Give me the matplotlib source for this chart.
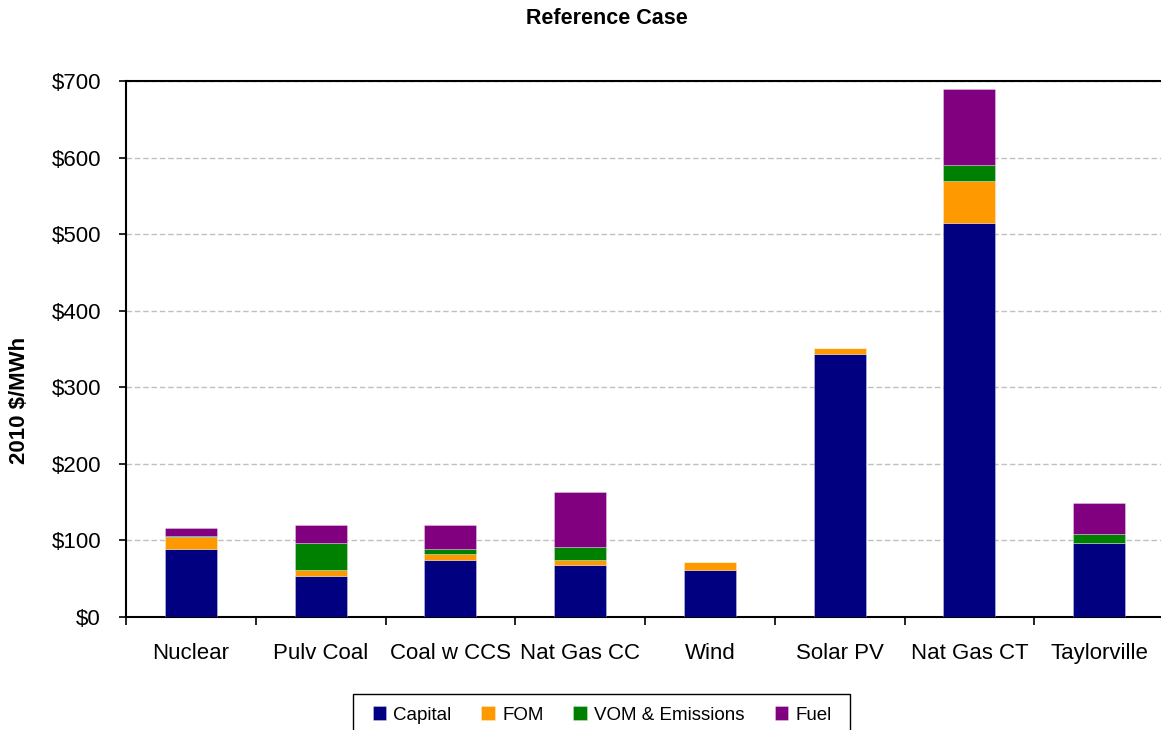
import matplotlib
matplotlib.use("Agg")
import matplotlib.pyplot as plt
from matplotlib.patches import Rectangle
import numpy as np

plt.rcParams['font.family'] = ['Liberation Sans', 'DejaVu Sans']

categories = ["Nuclear", "Pulv Coal", "Coal w CCS", "Nat Gas CC", "Wind", "Solar PV", "Nat Gas CT", "Taylorville"]
capital = [89, 53, 74, 68, 61, 343, 515, 96]
fom = [15, 8, 8, 6, 11, 8, 54, 0]
vom = [2, 36, 7, 17, 0, 0, 21, 13]
fuel = [10, 23, 31, 72, 0, 0, 100, 40]
series_names = ["Capital", "FOM", "VOM & Emissions", "Fuel"]
colors = ["#000080", "#FF9900", "#008000", "#800080"]
yticks = [0, 100, 200, 300, 400, 500, 600, 700]

W, H = 1161, 730
fig = plt.figure(figsize=(W / 100, H / 100), dpi=100)
ax = fig.add_axes([126 / W, 1 - 617 / H, (1164 - 126) / W, (617 - 81) / H])

x = np.arange(len(categories))
bottom = np.zeros(len(categories))
for vals, name, c in zip([capital, fom, vom, fuel], series_names, colors):
    v = np.array(vals, dtype=float)
    ax.bar(x, v, bottom=bottom, width=0.4, color=c, label=name,
           edgecolor=(1, 1, 1, 0.35), linewidth=0.6, zorder=3)
    bottom += v

ax.set_xlim(-0.5, len(categories) - 0.5)
ax.set_ylim(0, 700)
ax.set_yticks(yticks)
ax.set_yticklabels([f"${t}" for t in yticks], fontsize=16)
ax.yaxis.grid(True, linestyle=(0, (4, 2)), color="#c0c0c0", linewidth=1, zorder=0)
ax.set_xticks(x)
ax.set_xticklabels(categories, fontsize=16)
ax.tick_params(axis='x', length=0, pad=19)
ax.tick_params(axis='y', length=5, direction='out', width=1.2, pad=13)
ax.set_xticks(np.arange(-0.5, len(categories) + 0.5, 1), minor=True)
ax.tick_params(axis='x', which='minor', length=6, width=1.2, direction='out')
for s in ['left', 'bottom', 'top']:
    ax.spines[s].set_linewidth(1.5)
ax.spines['right'].set_visible(False)

fig.text(20 / W, 1 - 400 / H, "2010 $/MWh", rotation=90, ha='center', va='center',
         fontsize=16, fontweight='bold')
fig.text(607 / W, 1 - 18 / H, "Reference Case", ha='center', va='center', fontsize=15.5, fontweight='bold')

leg = fig.legend(loc='center', bbox_to_anchor=(602 / W, 1 - 715 / H), ncol=4, fontsize=13.5,
                 frameon=False, handlelength=0.7, handleheight=0.7,
                 columnspacing=1.6, handletextpad=0.4, borderpad=0.0)
fig.patches.append(Rectangle((353 / W, -0.05), (850 - 353) / W, 0.05 + (730 - 694) / H,
                             transform=fig.transFigure, fill=False, edgecolor='black',
                             linewidth=1.0))

fig.savefig("out.png", dpi=100)
